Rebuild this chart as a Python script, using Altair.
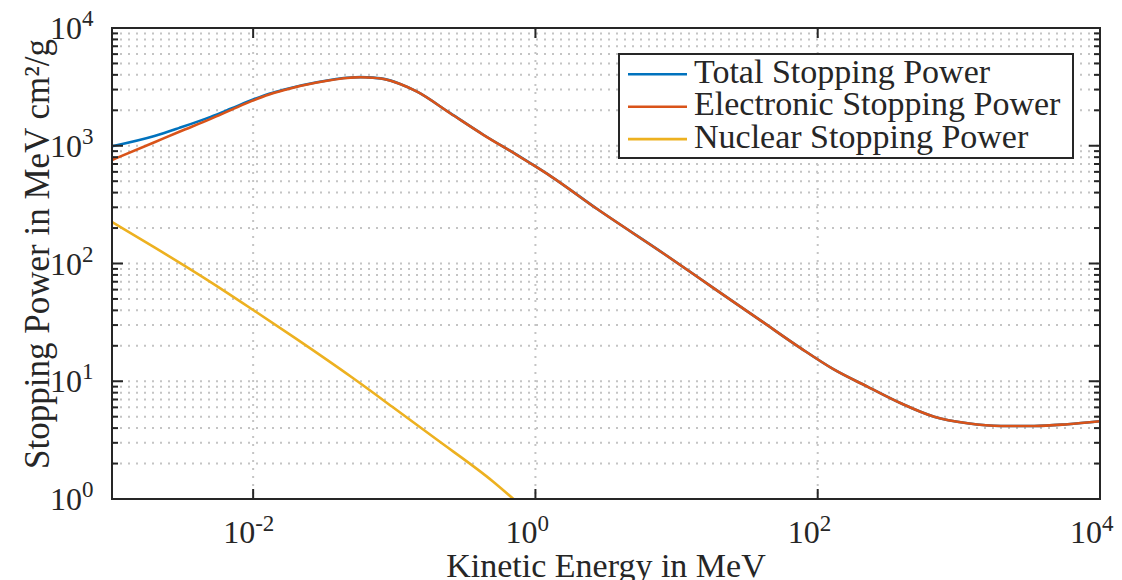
import altair as alt
import pandas as pd

# ---- data (MeV, MeV cm^2/g) ----
energy_e = [0.001, 0.002, 0.003, 0.005, 0.007, 0.01, 0.013, 0.0164, 0.0283, 0.0488,
            0.0574, 0.064, 0.084, 0.11, 0.145, 0.249, 0.43, 0.741, 0.92, 1.28,
            2.74, 8.13, 18.4, 40, 75.7, 130, 225, 388, 668, 1153,
            1988, 3420, 5900, 10000]
electronic = [757, 1072, 1315, 1690, 2018, 2427, 2729, 2965, 3443, 3784,
              3819, 3802, 3690, 3342, 2877, 1888, 1233, 834, 710, 552,
              290, 121, 61.5, 32.4, 19.1, 12.6, 9.0, 6.5, 5.0, 4.40,
              4.17, 4.17, 4.32, 4.57]
total = [990, 1210, 1418, 1760, 2070, 2467, 2761, 2990, 3458, 3795,
         3829, 3811, 3697, 3346, 2880, 1890, 1234, 835, 711, 553,
         290, 121, 61.5, 32.4, 19.1, 12.6, 9.0, 6.5, 5.0, 4.40,
         4.17, 4.17, 4.32, 4.57]
energy_n = [0.001, 0.002, 0.005, 0.01, 0.02, 0.05, 0.1, 0.2, 0.5, 0.72]
nuclear = [225, 137, 69.5, 40.3, 23.1, 10.8, 5.9, 3.2, 1.41, 0.97]

series_names = ["Total Stopping Power", "Electronic Stopping Power", "Nuclear Stopping Power"]
series_colors = ["#0072BD", "#D95319", "#EDB120"]

x_major = [1e-2, 1, 1e2]
x_label_vals = [1e-2, 1, 1e2, 1e4]
x_label_exp = ["-2", "0", "2", "4"]
y_major = [10, 100, 1000]
y_minor = [m * 10 ** k for k in range(0, 4) for m in range(2, 10)]
y_label_vals = [1, 10, 100, 1000, 10000]
y_label_exp = ["0", "1", "2", "3", "4"]

# ---- layout / style ----
W, H = 988, 471
FONT = "Liberation Serif"
INK = "#262626"
GRID = "#c4c4c4"
xs = alt.Scale(type="log", domain=[1e-3, 1e4], nice=False)
ys = alt.Scale(type="log", domain=[1, 1e4], nice=False)
dummy = pd.DataFrame({"a": [0]})


def xenc(f="v"):
    return alt.X(f"{f}:Q", scale=xs, axis=None)


def yenc(f="v"):
    return alt.Y(f"{f}:Q", scale=ys, axis=None)


layers = []

# grid
layers.append(alt.Chart(pd.DataFrame({"v": y_minor + y_major})).mark_rule(
    color=GRID, strokeWidth=2, strokeDash=[2, 6]).encode(
    y=yenc(), x=alt.value(0), x2=alt.value(W)))
layers.append(alt.Chart(pd.DataFrame({"v": x_major})).mark_rule(
    color=GRID, strokeWidth=2, strokeDash=[2, 6]).encode(
    x=xenc(), y=alt.value(0), y2=alt.value(H)))

# data lines
for energy, vals, color in [(energy_e, total, series_colors[0]),
                            (energy_e, electronic, series_colors[1]),
                            (energy_n, nuclear, series_colors[2])]:
    df = pd.DataFrame({"E": energy, "S": vals})
    layers.append(alt.Chart(df).mark_line(
        color=color, strokeWidth=2.6, clip=True, interpolate="monotone").encode(
        x=xenc("E"), y=yenc("S")))

# legend
layers.append(alt.Chart(dummy).mark_rect(fill="white", stroke=INK, strokeWidth=2).encode(
    x=alt.value(507), x2=alt.value(961), y=alt.value(26), y2=alt.value(130)))
for i, (name, color) in enumerate(zip(series_names, series_colors)):
    yy = 46.3 + 32.4 * i
    layers.append(alt.Chart(dummy).mark_rule(color=color, strokeWidth=2.6).encode(
        x=alt.value(516), x2=alt.value(575), y=alt.value(yy)))
    layers.append(alt.Chart(dummy).mark_text(
        text=name, align="left", baseline="alphabetic", font=FONT, fontSize=34,
        color=INK).encode(x=alt.value(582), y=alt.value(yy + 8.4)))

# frame
layers.append(alt.Chart(dummy).mark_rect(fillOpacity=0, stroke=INK, strokeWidth=2).encode(
    x=alt.value(0), x2=alt.value(W), y=alt.value(0), y2=alt.value(H)))

# ticks (inward)
xm = pd.DataFrame({"v": x_major})
layers.append(alt.Chart(xm).mark_rule(color=INK, strokeWidth=2).encode(
    x=xenc(), y=alt.value(H), y2=alt.value(H - 10)))
layers.append(alt.Chart(xm).mark_rule(color=INK, strokeWidth=2).encode(
    x=xenc(), y=alt.value(0), y2=alt.value(10)))
ym = pd.DataFrame({"v": y_major})
yn = pd.DataFrame({"v": y_minor})
layers.append(alt.Chart(ym).mark_rule(color=INK, strokeWidth=2).encode(
    y=yenc(), x=alt.value(0), x2=alt.value(11)))
layers.append(alt.Chart(ym).mark_rule(color=INK, strokeWidth=2).encode(
    y=yenc(), x=alt.value(W), x2=alt.value(W - 11)))
layers.append(alt.Chart(yn).mark_rule(color=INK, strokeWidth=2).encode(
    y=yenc(), x=alt.value(0), x2=alt.value(6)))
layers.append(alt.Chart(yn).mark_rule(color=INK, strokeWidth=2).encode(
    y=yenc(), x=alt.value(W), x2=alt.value(W - 6)))

# tick labels
xl = pd.DataFrame({"v": x_label_vals, "e": x_label_exp})
layers.append(alt.Chart(xl).mark_text(
    text="10", align="right", baseline="alphabetic", dx=2, font=FONT, fontSize=32,
    color=INK).encode(x=xenc(), y=alt.value(515)))
layers.append(alt.Chart(xl).mark_text(
    align="left", baseline="alphabetic", dx=2, font=FONT, fontSize=23,
    color=INK).encode(x=xenc(), y=alt.value(503), text="e:N"))
yl = pd.DataFrame({"v": y_label_vals, "e": y_label_exp})
layers.append(alt.Chart(yl).mark_text(
    text="10", align="right", baseline="alphabetic", dy=11, font=FONT, fontSize=32,
    color=INK).encode(y=yenc(), x=alt.value(-30)))
layers.append(alt.Chart(yl).mark_text(
    align="left", baseline="alphabetic", dy=-2, font=FONT, fontSize=23,
    color=INK).encode(y=yenc(), x=alt.value(-30), text="e:N"))

# axis titles
layers.append(alt.Chart(dummy).mark_text(
    text="Kinetic Energy in MeV", align="center", baseline="alphabetic", font=FONT,
    fontSize=34, color=INK).encode(x=alt.value(494), y=alt.value(549)))
layers.append(alt.Chart(dummy).mark_text(
    text="Stopping Power in MeV cm²/g", align="center", baseline="middle", angle=270,
    font=FONT, fontSize=35, color=INK).encode(
    x=alt.value(-74), y=alt.value(226)))

chart = alt.layer(*layers).properties(
    width=W, height=H,
    padding={"left": 112, "top": 28, "right": 22, "bottom": 81},
    autosize=alt.AutoSizeParams(type="none"),
    background="white",
).configure_view(stroke=None)

chart.save("out.html", embed_options={"renderer": "svg", "actions": False})
